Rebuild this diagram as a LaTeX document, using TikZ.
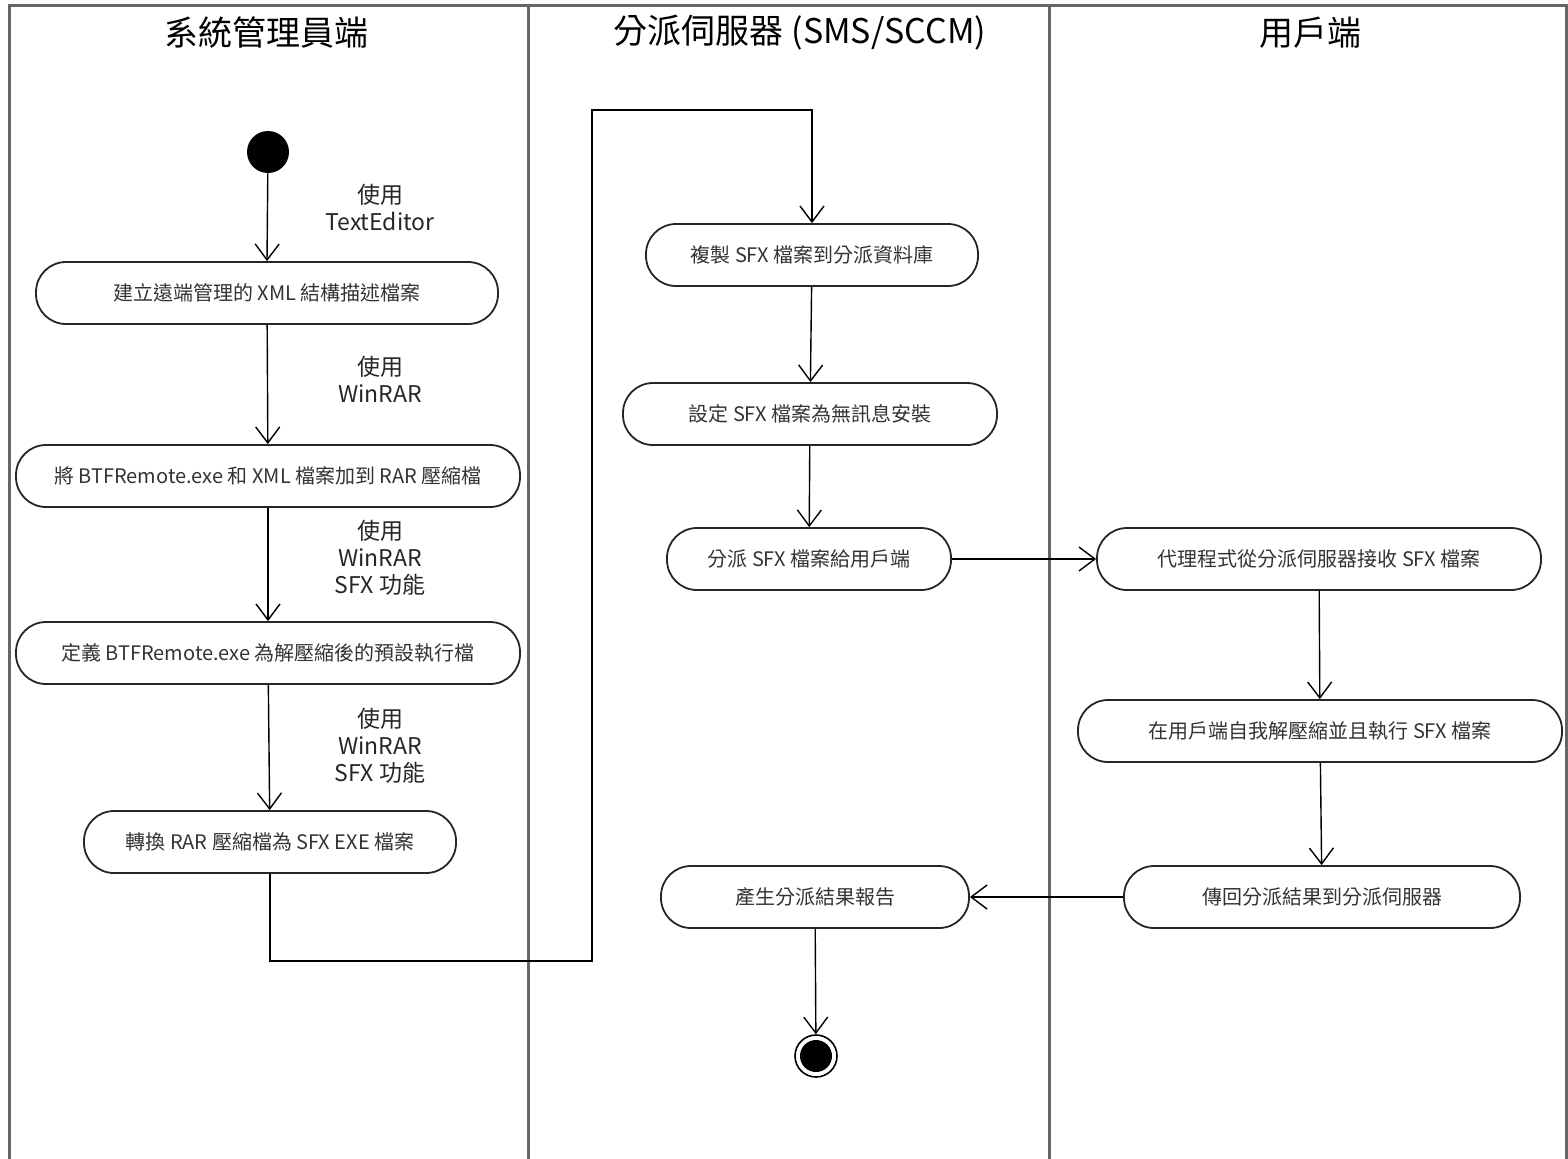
\documentclass[tikz,border=0pt]{standalone}
\usepackage{fontspec}
\setmainfont{Noto Sans CJK TC}
\usetikzlibrary{arrows.meta}
\begin{document}
\begin{tikzpicture}[x=0.5pt,y=-0.5pt,
   lane/.style={draw=black!60,line width=1.5pt},
   head/.style={font=\fontsize{17}{20}\selectfont},
   act/.style={draw=black!85,line width=0.9pt,rounded corners=15pt,
      minimum height=31pt,inner sep=0pt,text=black!80,
      font=\fontsize{10}{12}\selectfont},
   guard/.style={align=center,text=black!85,font=\fontsize{11.5}{13.5}\selectfont},
   flow/.style={draw=black,line width=0.7pt,-{Straight Barb[length=8pt,width=12pt]}},
   initial/.style={circle,fill=black,minimum size=21pt,inner sep=0pt},
   final/.style={circle,draw=black,line width=0.8pt,minimum size=21pt,inner sep=0pt,
      path picture={\fill (path picture bounding box.center) circle (8pt);}}]
   \useasboundingbox (0,0) rectangle (1568,1158);
   % swimlanes
   \draw[lane] (9,1160) -- (9,5) -- (1566,5) -- (1566,1160);
   \draw[lane] (528,5) -- (528,1160);
   \draw[lane] (1049,5) -- (1049,1160);
   \node[head] (h1) at (266,33) {系統管理員端};
   \node[head] (h2) at (800,33) {分派伺服器 (SMS/SCCM)};
   \node[head] (h3) at (1310,33) {用戶端};

   \node[initial] (start) at (268,152) {};
   \node[act,minimum width=231pt] (xml) at (267,293) {建立遠端管理的 XML 結構描述檔案};
   \node[act,minimum width=252pt] (rar) at (268,476) {將 BTFRemote.exe 和 XML 檔案加到 RAR 壓縮檔};
   \node[act,minimum width=252pt] (def) at (268,653) {定義 BTFRemote.exe 為解壓縮後的預設執行檔};
   \node[act,minimum width=186pt] (sfx) at (270,842) {轉換 RAR 壓縮檔為 SFX EXE 檔案};

   \node[act,minimum width=166pt] (copy) at (812,255) {複製 SFX 檔案到分派資料庫};
   \node[act,minimum width=187pt] (silent) at (810,414) {設定 SFX 檔案為無訊息安裝};
   \node[act,minimum width=142pt] (send) at (809,559) {分派 SFX 檔案給用戶端};
   \node[act,minimum width=154pt] (report) at (815,897) {產生分派結果報告};
   \node[final] (end) at (816,1056) {};

   \node[act,minimum width=222pt] (recv) at (1319,559) {代理程式從分派伺服器接收 SFX 檔案};
   \node[act,minimum width=242pt] (run) at (1320,731) {在用戶端自我解壓縮並且執行 SFX 檔案};
   \node[act,minimum width=198pt] (back) at (1322,897) {傳回分派結果到分派伺服器};

   \node[guard] (g1) at (380,207) {使用\\TextEditor};
   \node[guard] (g2) at (380,379) {使用\\WinRAR};
   \node[guard] (g3) at (380,558) {使用\\WinRAR\\SFX 功能};
   \node[guard] (g4) at (380,746) {使用\\WinRAR\\SFX 功能};

   \coordinate (low) at (592,961);
   \coordinate (high) at (592,110);

   \draw[flow] (start) -- (xml.north);
   \draw[flow] (xml) -- (rar);
   \draw[flow] (rar) -- (def);
   \draw[flow] (def) -- (sfx);
   \draw[flow] (sfx.south) |- (low) -- (high) -| (copy.north);
   \draw[flow] (copy) -- (silent);
   \draw[flow] (silent) -- (send);
   \draw[flow] (send) -- (recv);
   \draw[flow] (recv) -- (run);
   \draw[flow] (run) -- (back);
   \draw[flow] (back) -- (report);
   \draw[flow] (report) -- (end);
\end{tikzpicture}
\end{document}
